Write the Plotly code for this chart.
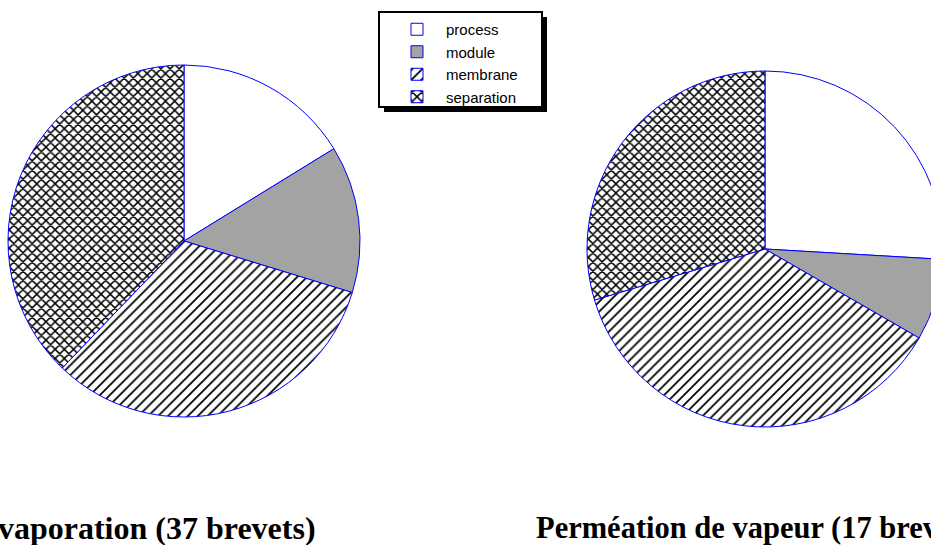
import plotly.graph_objects as go

categories = ["process", "module", "membrane", "separation"]
pervap_values = [6, 5, 12, 14]
vapeur_values = [7, 2, 10, 8]
titles = ["Pervaporation (37 brevets)", "Perméation de vapeur (17 brevets)"]

W, H = 945, 545

def px_x(v):
    return v / W

def px_y(v):
    return 1 - v / H

fills = ["#FFFFFF", "#A3A3A3", "#FFFFFF", "#FFFFFF"]
pattern = dict(shape=["", "", "/", "x"], fgcolor="black", bgcolor=fills,
               size=[8, 8, 7, 6.5], solidity=[0.2, 0.2, 0.25, 0.4], fillmode="replace")
marker = dict(colors=fills, line=dict(color="#0000FF", width=1), pattern=pattern)

fig = go.Figure()
fig.add_trace(go.Pie(labels=categories, values=pervap_values, sort=False,
                     direction="clockwise", rotation=0, textinfo="none",
                     hoverinfo="label+value+percent", marker=marker,
                     domain=dict(x=[px_x(8), px_x(360)], y=[px_y(417), px_y(65)])))
fig.add_trace(go.Pie(labels=categories, values=vapeur_values, sort=False,
                     direction="clockwise", rotation=0, textinfo="none",
                     hoverinfo="label+value+percent", marker=marker,
                     domain=dict(x=[px_x(587), px_x(943)], y=[px_y(427), px_y(71)])))

fig.add_annotation(text="<b>" + titles[0] + "</b>", x=px_x(318), y=px_y(528),
                   xref="paper", yref="paper", xanchor="right", yanchor="middle",
                   showarrow=False,
                   font=dict(family="Liberation Serif, Times New Roman, serif", size=32, color="black"))
fig.add_annotation(text="<b>" + titles[1] + "</b>", x=px_x(534), y=px_y(528),
                   xref="paper", yref="paper", xanchor="left", yanchor="middle",
                   showarrow=False,
                   font=dict(family="Liberation Serif, Times New Roman, serif", size=30.5, color="black"))

# legend frame with drop shadow
fig.add_shape(type="rect", xref="paper", yref="paper",
              x0=px_x(384), x1=px_x(547), y0=px_y(112), y1=px_y(17),
              fillcolor="black", line=dict(width=0), layer="above")
fig.add_shape(type="rect", xref="paper", yref="paper",
              x0=px_x(379), x1=px_x(542), y0=px_y(107), y1=px_y(12),
              fillcolor="white", line=dict(color="black", width=2), layer="above")

fig.update_layout(
    width=W, height=H, autosize=False,
    margin=dict(l=0, r=0, t=0, b=0),
    paper_bgcolor="white", plot_bgcolor="white",
    showlegend=True,
    legend=dict(x=px_x(388), y=px_y(13), xanchor="left", yanchor="top",
                itemwidth=48,
                bgcolor="rgba(0,0,0,0)", borderwidth=0, traceorder="normal",
                font=dict(family="Liberation Sans, Arial, sans-serif", size=15, color="black")),
)

fig.write_html("out.html", config={"displayModeBar": False}, post_script=(
    "document.documentElement.style.overflow='hidden';"
    "document.body.style.overflow='hidden';"
    "document.body.style.margin='0';"
    "document.body.style.padding='0';"))
